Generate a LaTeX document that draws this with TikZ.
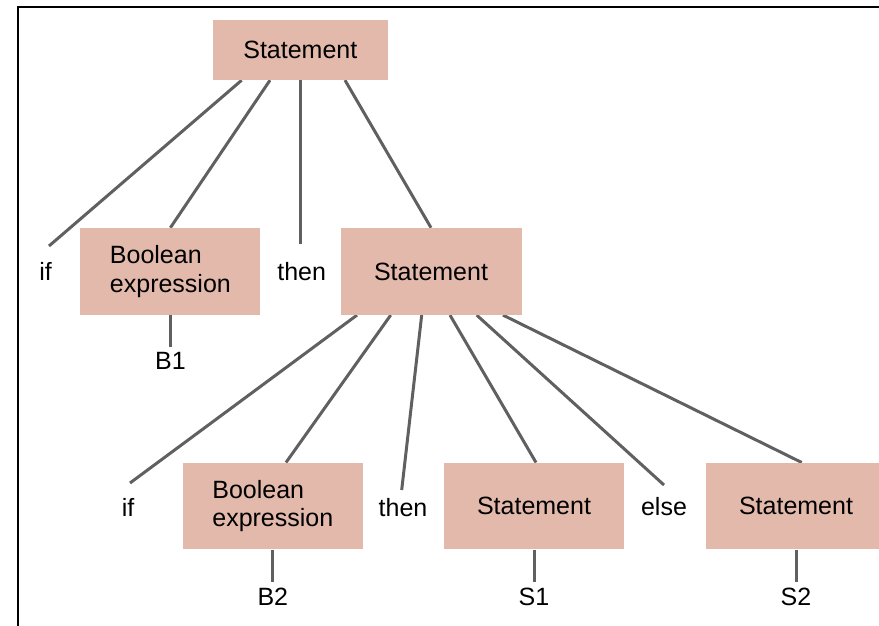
\documentclass[tikz,border=0pt]{standalone}
\usepackage{fontspec}
\setmainfont{Liberation Sans}
\usetikzlibrary{backgrounds}
\definecolor{boxfill}{RGB}{226,185,171}
\definecolor{linegray}{RGB}{96,96,98}
\begin{document}
\begin{tikzpicture}[x=1pt,y=-1pt,
  box/.style={draw=none,fill=boxfill,minimum width=180pt,minimum height=87pt,inner sep=0pt,
    font=\fontsize{25}{28.7}\selectfont,align=left},
  lbl/.style={font=\fontsize{25}{28.7}\selectfont,inner sep=0pt,anchor=base},
  edge/.style={draw=linegray,line width=3pt}]
\useasboundingbox (0,0) rectangle (879,626);
\clip (0,0) rectangle (879,626);
\draw[line width=2.2pt] (18.3,626) -- (18.3,6.8) -- (879,6.8);

% boxes
\node[box,minimum width=175.5pt,minimum height=60pt] (st0) at (300.3,50) {Statement};
\node[box] (be1) at (170.4,271.4) {Boolean\\expression};
\node[box,minimum width=181pt] (st1) at (431,271.4) {Statement};
\node[box,minimum height=86.6pt] (be2) at (272.8,506) {Boolean\\expression};
\node[box,minimum height=86.6pt] (st2) at (534,506) {Statement};
\node[box,minimum height=86.6pt] (st3) at (796,506) {Statement};

% labels
\node[lbl] (if1) at (45.5,280) {if};
\node[lbl] (then1) at (301.7,280) {then};
\node[lbl] (b1) at (170.4,369) {B1};
\node[lbl] (if2) at (128,516) {if};
\node[lbl] (then2) at (403,516) {then};
\node[lbl] (else) at (664,515) {else};
\node[lbl] (b2) at (272.8,605) {B2};
\node[lbl] (s1) at (534,605) {S1};
\node[lbl] (s2) at (796,605) {S2};

% free ends
\coordinate (cif1) at (49,246);
\coordinate (cthen1) at (300,244);
\coordinate (cif2) at (130,483);
\coordinate (cthen2) at (401.7,490);
\coordinate (celse) at (664,485);
\coordinate (cb1) at (170.4,346.5);
\coordinate (cb2) at (272.8,582);
\coordinate (cs1) at (534,582);
\coordinate (cs2) at (796,582);

\begin{scope}[on background layer]
\draw[edge] ([xshift=-58.6pt]st0.south) -- (cif1);
\draw[edge] ([xshift=-30.3pt]st0.south) -- (be1.north);
\draw[edge] (st0.south -| cthen1) -- (cthen1);
\draw[edge] ([xshift=44.7pt]st0.south) -- (st1.north);

\draw[edge] ([xshift=-74pt]st1.south) -- (cif2);
\draw[edge] ([xshift=-40.3pt]st1.south) -- ([xshift=13.2pt]be2.north);
\draw[edge] ([xshift=-9.3pt]st1.south) -- (cthen2);
\draw[edge] ([xshift=19pt]st1.south) -- ([xshift=2pt]st2.north);
\draw[edge] ([xshift=45.7pt]st1.south) -- (celse);
\draw[edge] ([xshift=72pt]st1.south) -- ([xshift=5.7pt]st3.north);

\draw[edge] (be1.south) -- (cb1);
\draw[edge] (be2.south) -- (cb2);
\draw[edge] (st2.south) -- (cs1);
\draw[edge] (st3.south) -- (cs2);
\end{scope}
\end{tikzpicture}
\end{document}
